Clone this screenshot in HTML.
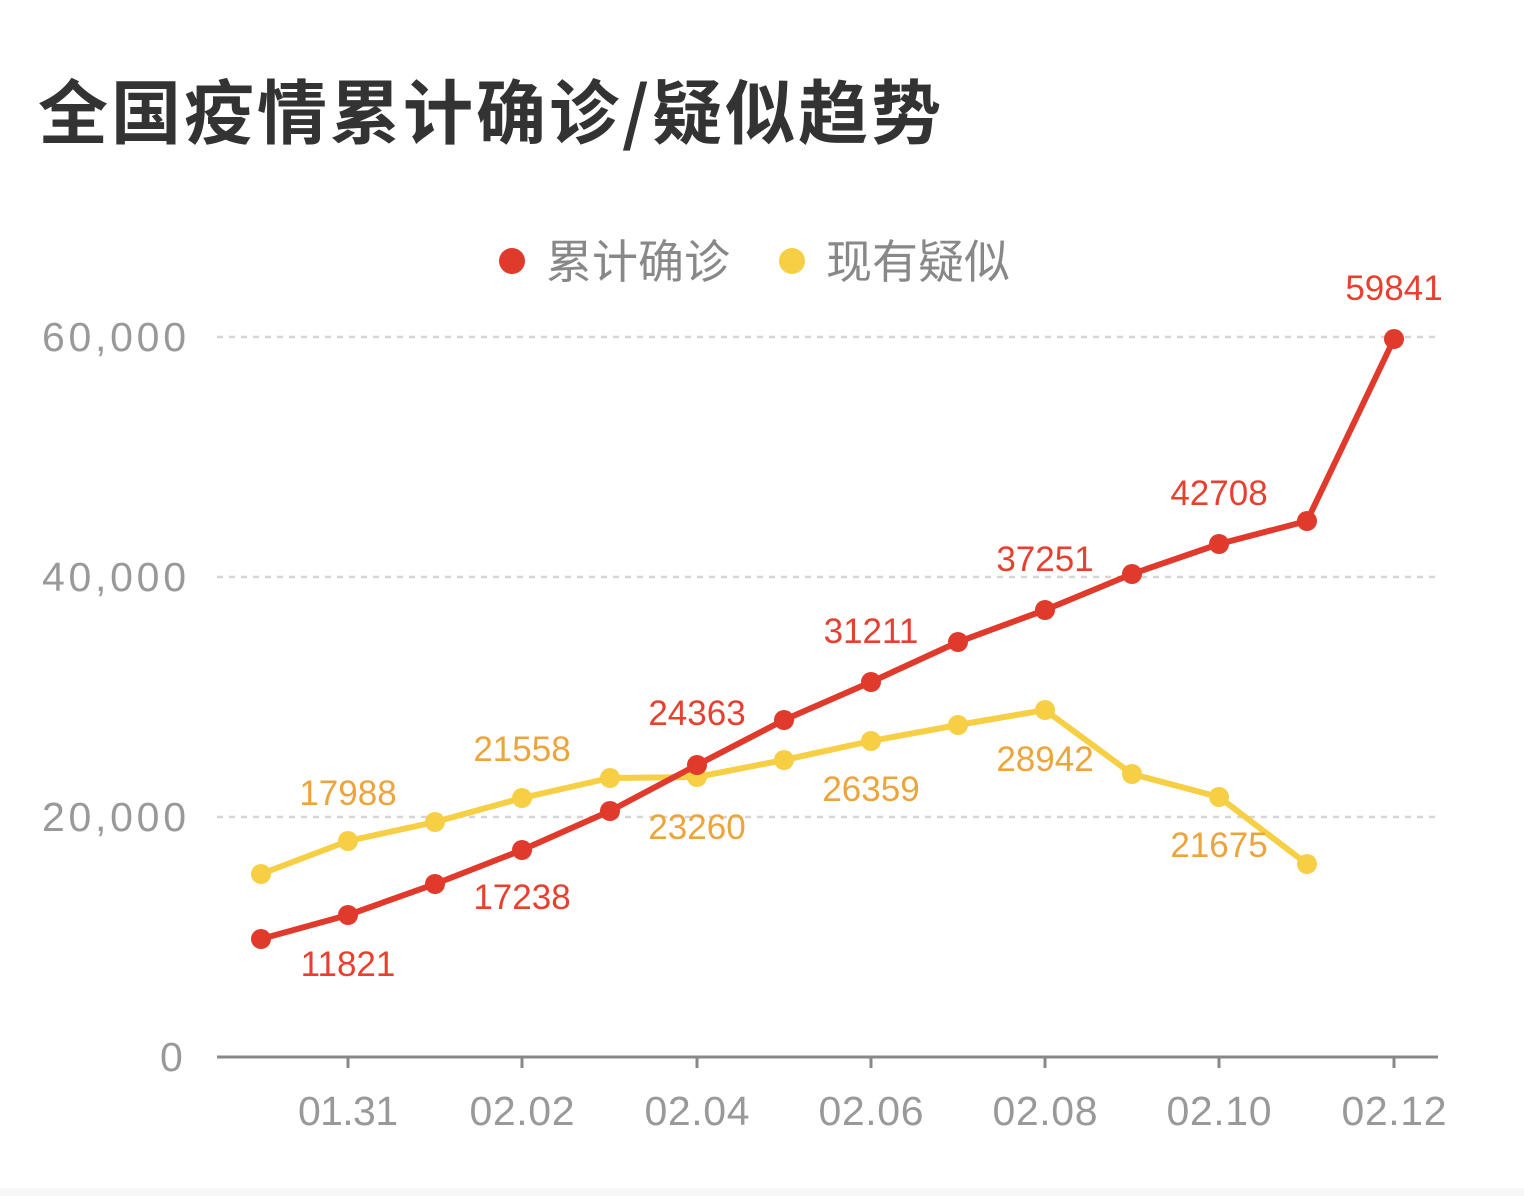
<!DOCTYPE html>
<html><head><meta charset="utf-8"><style>
html,body{margin:0;padding:0;background:#fff;}
svg{display:block;}
text{font-family:"Liberation Sans","Noto Sans CJK SC",sans-serif;}
</style></head><body>
<svg width="1524" height="1196" viewBox="0 0 1524 1196" xmlns="http://www.w3.org/2000/svg">
<rect width="1524" height="1196" fill="#fff"/>
<rect y="1188" width="1524" height="8" fill="#f7f7f7"/>
<text x="38" y="138" font-size="70" font-weight="bold" fill="#333" letter-spacing="3" style="font-family:'Noto Sans CJK SC',sans-serif">全国疫情累计确诊/疑似趋势</text>
<circle cx="512" cy="261" r="13" fill="#e03a2c"/>
<text x="546" y="278" font-size="46" fill="#888" style="font-family:'Noto Sans CJK SC',sans-serif">累计确诊</text>
<circle cx="792" cy="261" r="13" fill="#f7cf45"/>
<text x="826" y="278" font-size="46" fill="#888" style="font-family:'Noto Sans CJK SC',sans-serif">现有疑似</text>
<g stroke="#d5d5d5" stroke-width="2.5" stroke-dasharray="6,6">
<line x1="217" y1="337" x2="1438" y2="337"/><line x1="217" y1="577" x2="1438" y2="577"/><line x1="217" y1="817" x2="1438" y2="817"/>
</g>
<line x1="217" y1="1057" x2="1438" y2="1057" stroke="#888" stroke-width="3"/>
<g stroke="#888" stroke-width="3">
<line x1="348" y1="1057" x2="348" y2="1068"/><line x1="522" y1="1057" x2="522" y2="1068"/><line x1="697" y1="1057" x2="697" y2="1068"/><line x1="871" y1="1057" x2="871" y2="1068"/><line x1="1045" y1="1057" x2="1045" y2="1068"/><line x1="1219" y1="1057" x2="1219" y2="1068"/><line x1="1394" y1="1057" x2="1394" y2="1068"/>
</g>
<g font-size="41" fill="#999">
<text x="42" y="351" textLength="144">60,000</text><text x="42" y="591" textLength="144">40,000</text><text x="42" y="831" textLength="144">20,000</text><text x="160" y="1071">0</text>
</g>
<g font-size="41" fill="#999" text-anchor="middle">
<text x="348" y="1125" textLength="100">01.31</text><text x="522" y="1125" textLength="105">02.02</text><text x="697" y="1125" textLength="105">02.04</text><text x="871" y="1125" textLength="105">02.06</text><text x="1045" y="1125" textLength="105">02.08</text><text x="1219" y="1125" textLength="105">02.10</text><text x="1394" y="1125" textLength="105">02.12</text>
</g>
<polyline fill="none" stroke="#f7cf45" stroke-width="6" stroke-linejoin="round" points="261,874 348,841 435,822 522,798 610,778 697,777 784,760 871,741 958,725 1045,710 1132,774 1219,797 1307,864"/>
<g fill="#f7cf45">
<circle cx="261" cy="874" r="10"/><circle cx="348" cy="841" r="10"/><circle cx="435" cy="822" r="10"/><circle cx="522" cy="798" r="10"/><circle cx="610" cy="778" r="10"/><circle cx="697" cy="777" r="10"/><circle cx="784" cy="760" r="10"/><circle cx="871" cy="741" r="10"/><circle cx="958" cy="725" r="10"/><circle cx="1045" cy="710" r="10"/><circle cx="1132" cy="774" r="10"/><circle cx="1219" cy="797" r="10"/><circle cx="1307" cy="864" r="10"/>
</g>
<polyline fill="none" stroke="#e03a2c" stroke-width="6" stroke-linejoin="round" points="261,939 348,915 435,884 522,850 610,811 697,765 784,720 871,682 958,642 1045,610 1132,574 1219,544 1307,521 1394,339"/>
<g fill="#e03a2c">
<circle cx="261" cy="939" r="10"/><circle cx="348" cy="915" r="10"/><circle cx="435" cy="884" r="10"/><circle cx="522" cy="850" r="10"/><circle cx="610" cy="811" r="10"/><circle cx="697" cy="765" r="10"/><circle cx="784" cy="720" r="10"/><circle cx="871" cy="682" r="10"/><circle cx="958" cy="642" r="10"/><circle cx="1045" cy="610" r="10"/><circle cx="1132" cy="574" r="10"/><circle cx="1219" cy="544" r="10"/><circle cx="1307" cy="521" r="10"/><circle cx="1394" cy="339" r="10"/>
</g>
<g font-size="35" fill="#e8402f" text-anchor="middle">
<text x="348" y="976">11821</text><text x="522" y="909">17238</text><text x="697" y="725">24363</text><text x="871" y="643">31211</text><text x="1045" y="571">37251</text><text x="1219" y="505">42708</text><text x="1394" y="300">59841</text>
</g>
<g font-size="35" fill="#eda43a" text-anchor="middle">
<text x="348" y="805">17988</text><text x="522" y="761">21558</text><text x="697" y="839">23260</text><text x="871" y="801">26359</text><text x="1045" y="771">28942</text><text x="1219" y="857">21675</text>
</g>
</svg>
</body></html>
